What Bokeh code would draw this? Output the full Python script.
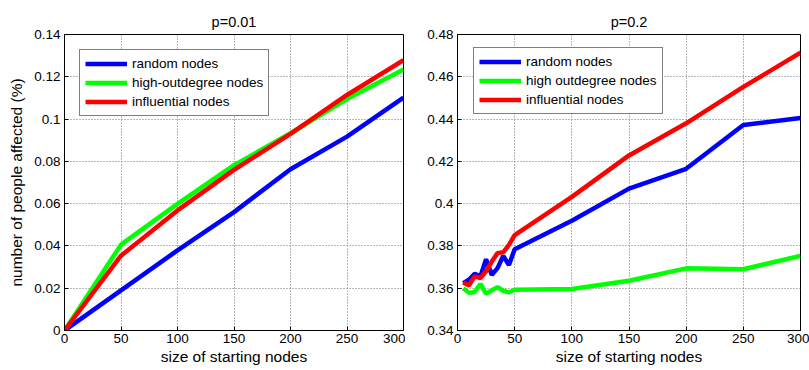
from bokeh.plotting import figure
from bokeh.layouts import row
from bokeh.models import FixedTicker, Range1d
from bokeh.embed import file_html
from bokeh.resources import INLINE

# ---- data: p = 0.01 ----
x_left = [0, 50, 100, 150, 200, 250, 300]
random_left = [0.0, 0.019, 0.0379, 0.056, 0.0763, 0.0917, 0.1101]
outdeg_left = [0.0, 0.0406, 0.0599, 0.0782, 0.0933, 0.1095, 0.1235]
influ_left = [0.0, 0.0354, 0.0568, 0.076, 0.093, 0.1114, 0.1279]

# ---- data: p = 0.2 ----
x_right = [5, 10, 15, 20, 25, 30, 35, 40, 45, 50, 100, 150, 200, 250, 300]
random_right = [0.3624, 0.364, 0.3668, 0.3656, 0.3737, 0.3663, 0.3695, 0.3753,
                0.371, 0.3784, 0.3919, 0.4071, 0.4165, 0.4372, 0.4405]
outdeg_right = [0.360, 0.3578, 0.3582, 0.362, 0.3574, 0.359, 0.3605, 0.3588,
                0.358, 0.3593, 0.3596, 0.3635, 0.3694, 0.369, 0.3753]
influ_right = [0.3627, 0.3613, 0.3656, 0.3648, 0.368, 0.3726, 0.3766, 0.377,
               0.3805, 0.3851, 0.4032, 0.4228, 0.438, 0.4552, 0.4714]

# ---- ticks ----
x_ticks = [0, 50, 100, 150, 200, 250, 300]
x_tick_labels = ["0", "50", "100", "150", "200", "250", "300"]
y_ticks_left = [0, 0.02, 0.04, 0.06, 0.08, 0.1, 0.12, 0.14]
y_labels_left = ["0", "0.02", "0.04", "0.06", "0.08", "0.1", "0.12", "0.14"]
y_ticks_right = [0.34, 0.36, 0.38, 0.4, 0.42, 0.44, 0.46, 0.48]
y_labels_right = ["0.34", "0.36", "0.38", "0.4", "0.42", "0.44", "0.46", "0.48"]

titles = ["p=0.01", "p=0.2"]
names_left = ["random nodes", "high-outdegree nodes", "influential nodes"]
names_right = ["random nodes", "high outdegree nodes", "influential nodes"]
colors = ["#0000FF", "#00FF00", "#FF0000"]

FONT = "Liberation Sans"


def style(p, yticks, ylabels):
    p.xaxis.ticker = FixedTicker(ticks=x_ticks)
    p.xaxis.major_label_overrides = {t: l for t, l in zip(x_ticks, x_tick_labels)}
    p.yaxis.ticker = FixedTicker(ticks=yticks)
    p.yaxis.major_label_overrides = {t: l for t, l in zip(yticks, ylabels)}
    for ax in (p.xaxis, p.yaxis):
        ax.major_tick_in = 4
        ax.major_tick_out = 0
        ax.minor_tick_line_color = None
        ax.axis_line_color = "black"
        ax.major_tick_line_color = "black"
        ax.major_label_text_font = FONT
        ax.major_label_text_font_size = "13.5px"
        ax.major_label_text_color = "black"
        ax.axis_label_text_font = FONT
        ax.axis_label_text_font_size = "15.5px"
        ax.axis_label_text_font_style = "normal"
        ax.axis_label_text_color = "black"
    p.xaxis.major_label_standoff = 3
    p.xaxis.axis_label_standoff = 2
    p.yaxis.major_label_standoff = 4
    p.yaxis.axis_label_standoff = 6
    p.xgrid.ticker = FixedTicker(ticks=x_ticks)
    p.ygrid.ticker = FixedTicker(ticks=yticks)
    for g in (p.xgrid, p.ygrid):
        g.grid_line_color = "#707070"
        g.grid_line_dash = "1 2"
        g.grid_line_width = 1
    p.outline_line_color = "black"
    p.outline_line_width = 1
    p.title.align = "center"
    p.title.text_font = FONT
    p.title.text_font_size = "14.5px"
    p.title.text_font_style = "normal"
    p.title.text_color = "black"
    p.background_fill_color = "white"
    p.border_fill_color = "white"


def legend_style(p, lx, ly):
    lg = p.legend[0]
    lg.location = (lx, ly)
    lg.border_line_color = "black"
    lg.border_line_width = 1
    lg.background_fill_color = "white"
    lg.background_fill_alpha = 1
    lg.label_text_font = FONT
    lg.label_text_font_size = "13.5px"
    lg.label_text_color = "black"
    lg.glyph_width = 42
    lg.glyph_height = 17
    lg.label_height = 17
    lg.label_standoff = 5
    lg.spacing = 2
    lg.padding = 5
    lg.margin = 0


p1 = figure(width=405, height=370, output_backend="svg", toolbar_location=None,
            x_range=Range1d(0, 300), y_range=Range1d(0, 0.14),
            title=titles[0], min_border_left=64, min_border_right=2,
            min_border_top=34, min_border_bottom=40)
for ys, name, c in zip([random_left, outdeg_left, influ_left], names_left, colors):
    p1.line(x_left, ys, line_color=c, line_width=4.5, legend_label=name)
style(p1, y_ticks_left, y_labels_left)
p1.xaxis.axis_label = "size of starting nodes"
p1.yaxis.axis_label = "number of people affected (%)"
legend_style(p1, 15, 214)

p2 = figure(width=404, height=370, output_backend="svg", toolbar_location=None,
            x_range=Range1d(0, 300), y_range=Range1d(0.34, 0.48),
            title=titles[1], min_border_left=52, min_border_right=9,
            min_border_top=34, min_border_bottom=40)
for ys, name, c in zip([random_right, outdeg_right, influ_right], names_right, colors):
    p2.line(x_right, ys, line_color=c, line_width=4.5, legend_label=name)
style(p2, y_ticks_right, y_labels_right)
p2.xaxis.axis_label = "size of starting nodes"
legend_style(p2, 16, 216)

layout = row(p1, p2)
open("out.html", "w").write(file_html(layout, INLINE))
